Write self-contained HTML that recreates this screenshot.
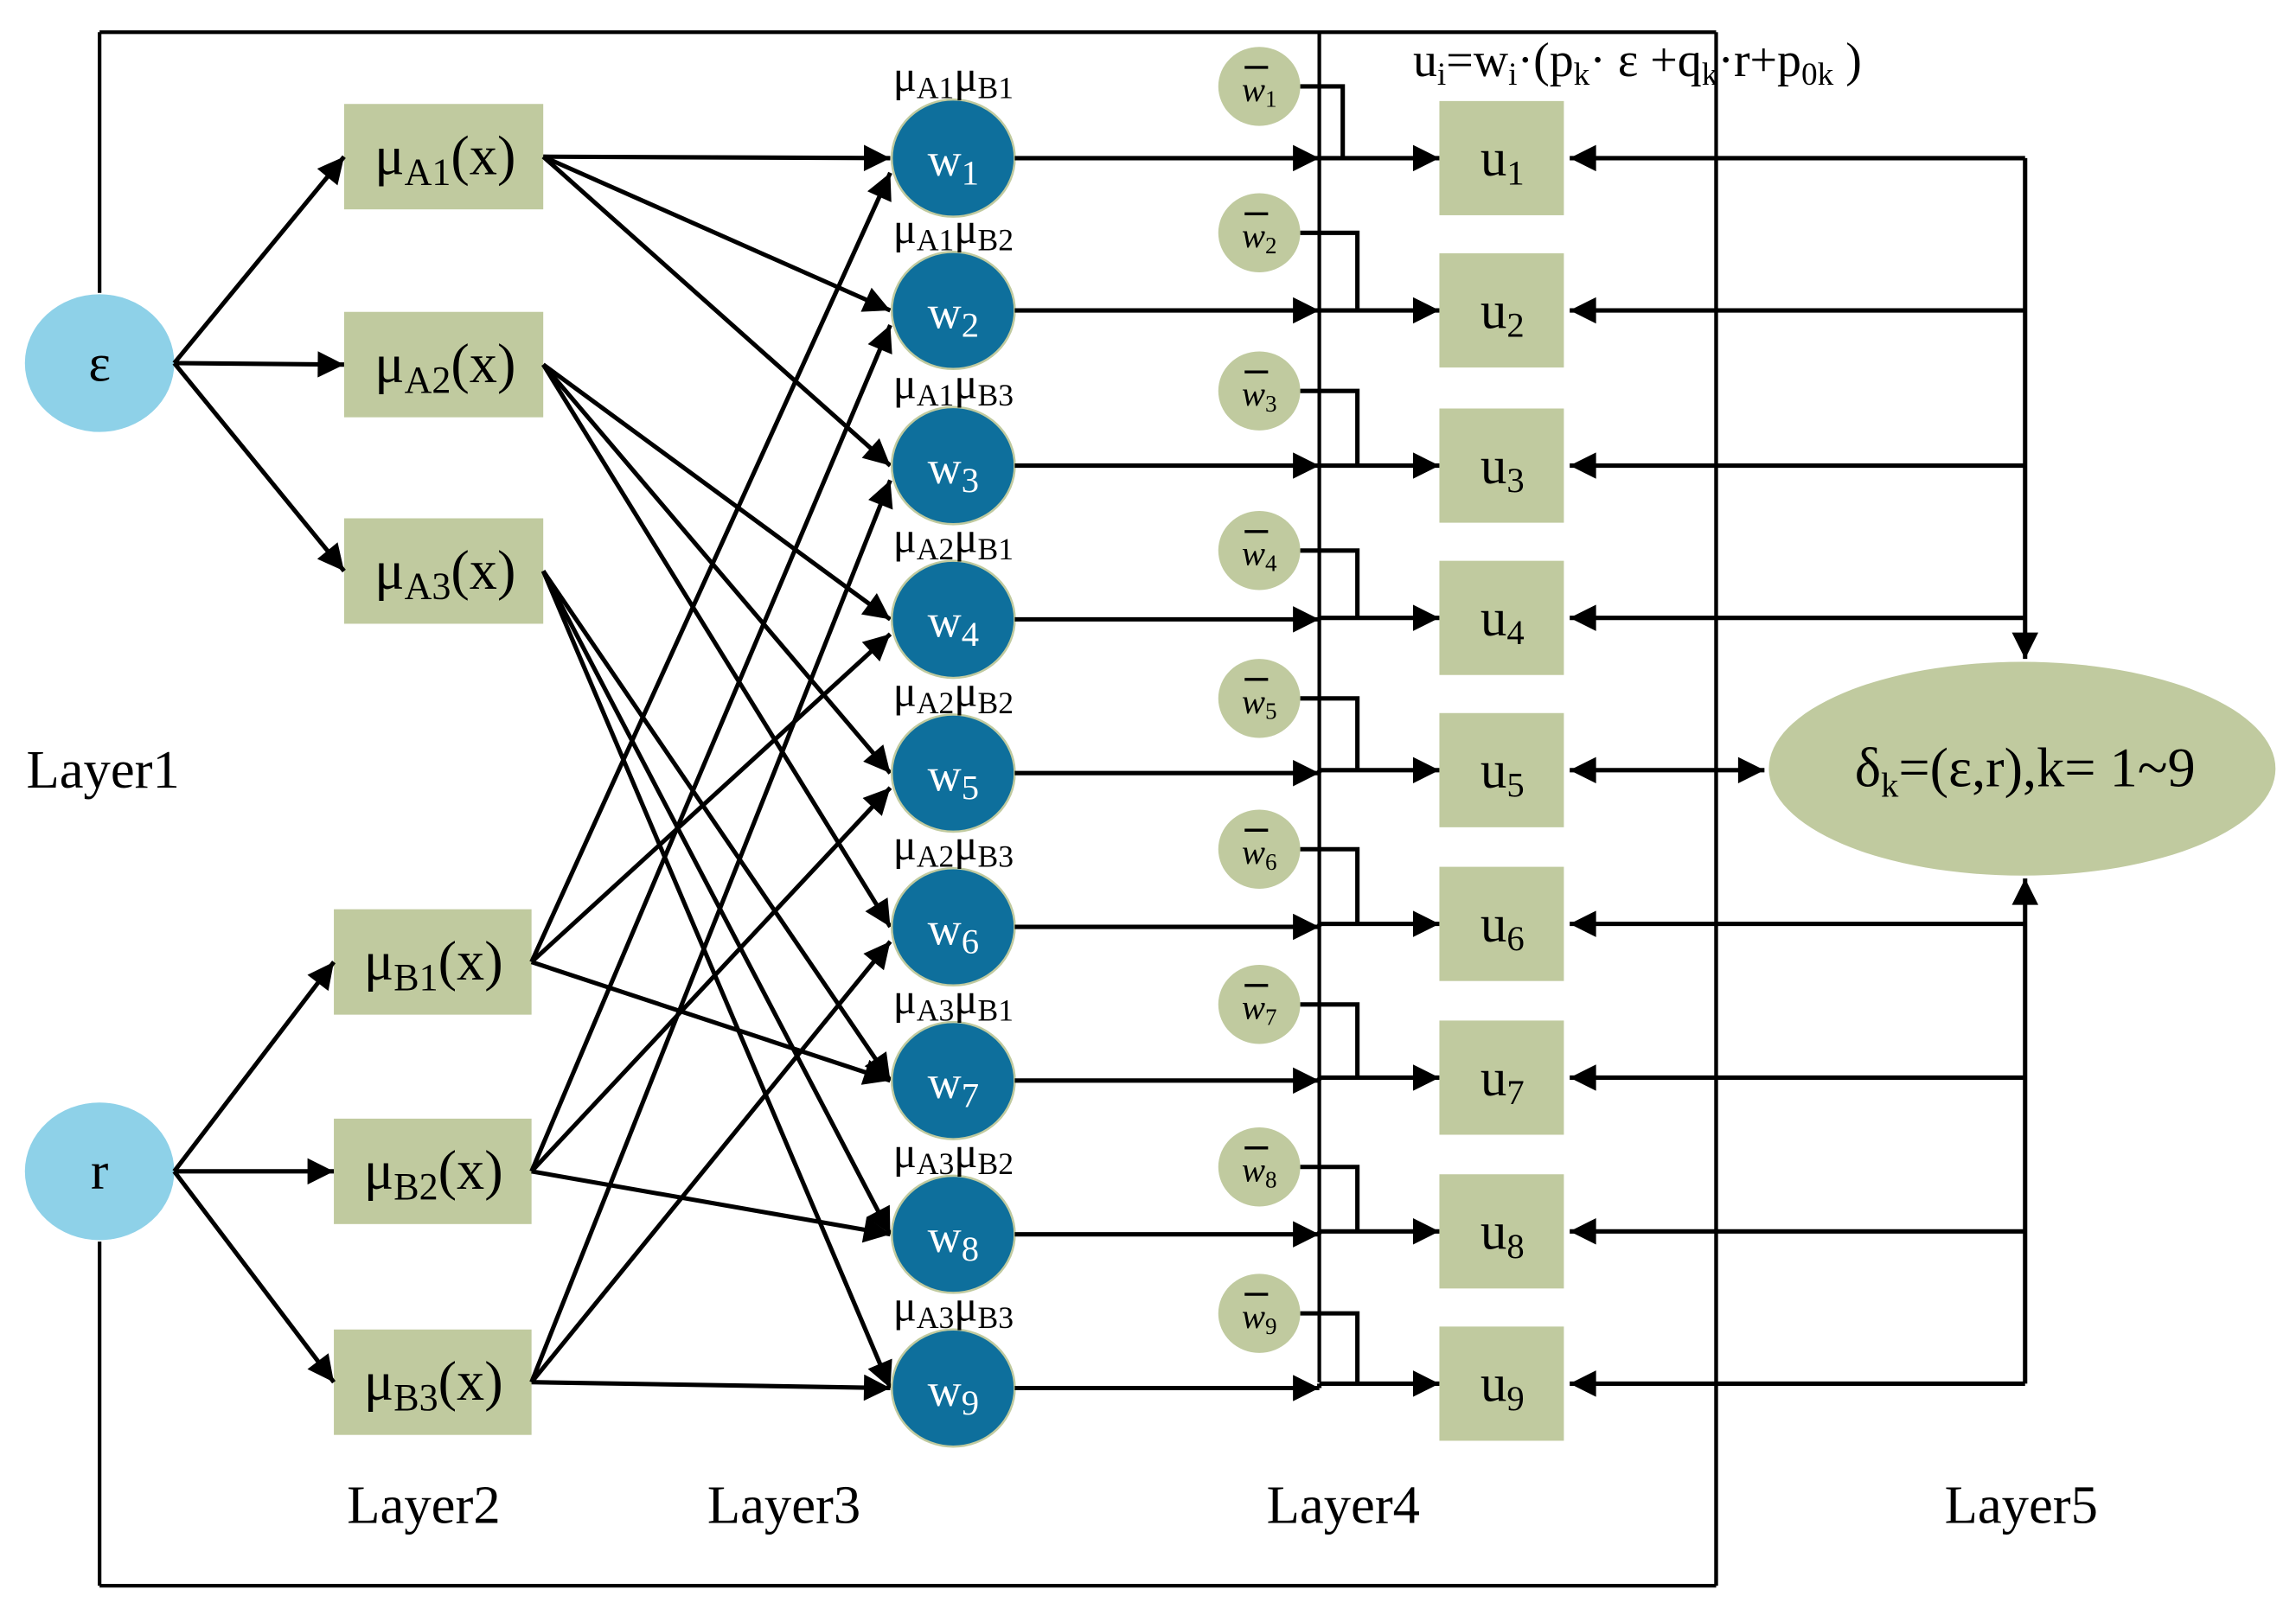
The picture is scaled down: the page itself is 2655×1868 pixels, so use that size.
<!DOCTYPE html>
<html><head><meta charset="utf-8"><style>
html,body{margin:0;padding:0;background:#fff;}
svg{display:block;}
text{font-family:"Liberation Serif",serif;}
</style></head><body>
<svg id="s" width="2655" height="1868" viewBox="0 0 1568 1103" preserveAspectRatio="none" xmlns="http://www.w3.org/2000/svg">
<defs>
<marker id="ar" viewBox="0 0 10 10" refX="10" refY="5" markerWidth="7" markerHeight="6" markerUnits="strokeWidth" orient="auto"><path d="M0,0L10,5L0,10z" fill="#000"/></marker>
<marker id="ars" viewBox="0 0 10 10" refX="0" refY="5" markerWidth="7" markerHeight="6" markerUnits="strokeWidth" orient="auto"><path d="M10,0L0,5L10,10z" fill="#000"/></marker>
</defs>
<g id="g" stroke="#000" stroke-width="3" fill="none"></g>
<g id="t"></g>
</svg>
<script>
const NS="http://www.w3.org/2000/svg";
const g=document.getElementById('g'),t=document.getElementById('t');
function el(tag,a,p){const e=document.createElementNS(NS,tag);for(const k in a)e.setAttribute(k,a[k]);(p||g).appendChild(e);return e;}
function line(x1,y1,x2,y2,arrow,w){const a={x1,y1,x2,y2};if(arrow)a['marker-end']='url(#ar)';if(w)a['stroke-width']=w;return el('line',a);}
function txt(x,y,html,size,anchor,fill){const e=el('text',{x,y,'font-size':size,'text-anchor':anchor||'start',fill:fill||'#000'},t);e.innerHTML=html;return e;}
line(68,200,68,22,0,2.5);line(68,22,1172,22,0,2.5);line(1172,22,1172,1083,0,2.5);line(1172,1083,68,1083,0,2.5);line(68,1083,68,848,0,2.5);
line(901,22,901,944,0,2.5);
el('ellipse',{cx:68,cy:248,rx:51,ry:47,fill:'#8ed1e8',stroke:'none'});
el('ellipse',{cx:68,cy:800,rx:51,ry:47,fill:'#8ed1e8',stroke:'none'});
txt(68,260,'ε',36,'middle');txt(68,812,'r',36,'middle');
const Ay=[107,249,390],By=[657,800,944];
const wy=[108,212,318,423,528,633,738,843,948];
Ay.forEach((y,i)=>{el('rect',{x:235,y:y-36,width:136,height:72,fill:'#c0ca9f',stroke:'none'});
 txt(304,y+12,'μ<tspan font-size="26" dy="7">A'+(i+1)+'</tspan><tspan dy="-7">(x)</tspan>',38,'middle');});
By.forEach((y,i)=>{el('rect',{x:228,y:y-36,width:135,height:72,fill:'#c0ca9f',stroke:'none'});
 txt(296,y+12,'μ<tspan font-size="26" dy="7">B'+(i+1)+'</tspan><tspan dy="-7">(x)</tspan>',38,'middle');});
Ay.forEach(y=>line(119,248,235,y,1));
By.forEach(y=>line(119,800,228,y,1));
function toW(x1,y1,k){const cy=wy[k];let ey=cy;if(y1>cy+20)ey=cy+10;line(x1,y1,608,ey,1);}
for(let i=0;i<3;i++)for(let j=0;j<3;j++){toW(371,Ay[i],i*3+j);toW(363,By[i],i+3*j);}
const lbl=[[1,1],[1,2],[1,3],[2,1],[2,2],[2,3],[3,1],[3,2],[3,3]];
const wb=[59,159,267,376,477,580,686,797,897];
const uy=[108,212,318,422,526,631,736,841,945];
wy.forEach((y,i)=>{
 el('ellipse',{cx:651,cy:y,rx:42,ry:40,fill:'#0e6f9c',stroke:'#c0ca9f','stroke-width':1.5});
 txt(651,y+12,'w<tspan font-size="24" dy="6">'+(i+1)+'</tspan>',32,'middle','#fff');
 txt(651,y-46,'μ<tspan font-size="21" dy="5">A'+lbl[i][0]+'</tspan><tspan dy="-5">μ</tspan><tspan font-size="21" dy="5">B'+lbl[i][1]+'</tspan>',30,'middle');
 line(693,y,901,y,1);line(901,uy[i],983,uy[i],1);
 if(Math.abs(uy[i]-y)>1)line(901,y,901,uy[i]);
 el('ellipse',{cx:860,cy:wb[i],rx:28,ry:27,fill:'#c0ca9f',stroke:'none'});
 txt(860,wb[i]+10,'<tspan font-style="italic">w</tspan><tspan font-size="16" dy="4">'+(i+1)+'</tspan>',24,'middle');
 el('line',{x1:850,y1:wb[i]-13,x2:866,y2:wb[i]-13,'stroke-width':2},g);
 const bx=i==0?917:927;
 el('polyline',{points:`888,${wb[i]} ${bx},${wb[i]} ${bx},${uy[i]}`});
 el('rect',{x:983,y:uy[i]-39,width:85,height:78,fill:'#c0ca9f',stroke:'none'});
 txt(1026,uy[i]+12,'u<tspan font-size="24" dy="6">'+(i+1)+'</tspan>',36,'middle');
 if(i==4){el('line',{x1:1072,y1:526,x2:1205,y2:526,'marker-end':'url(#ar)','marker-start':'url(#ars)'});}
 else line(1383,uy[i],1072,uy[i],1);
});
line(1383,108,1383,450,1);line(1383,945,1383,600,1);
line(1172,108,1172,1083,0,2.5);
el('ellipse',{cx:1381,cy:525,rx:173,ry:73,fill:'#c0ca9f',stroke:'none'});
txt(1383,537,'δ<tspan font-size="24" dy="7">k</tspan><tspan dy="-7">=(ε,r),k= 1~9</tspan>',38,'middle');
txt(965,52,'u<tspan font-size="22" dy="6">i</tspan><tspan dy="-6">=w</tspan><tspan font-size="22" dy="6">i</tspan><tspan dy="-6">·(p</tspan><tspan font-size="22" dy="6">k</tspan><tspan dy="-6">·  ε  +q</tspan><tspan font-size="22" dy="6">k</tspan><tspan dy="-6">·r+p</tspan><tspan font-size="22" dy="6">0k</tspan><tspan dy="-6">  )</tspan>',33);
txt(18,538,'Layer1',37);txt(237,1040,'Layer2',37);txt(483,1040,'Layer3',37);txt(865,1040,'Layer4',37);txt(1328,1040,'Layer5',37);
</script>
</body></html>
